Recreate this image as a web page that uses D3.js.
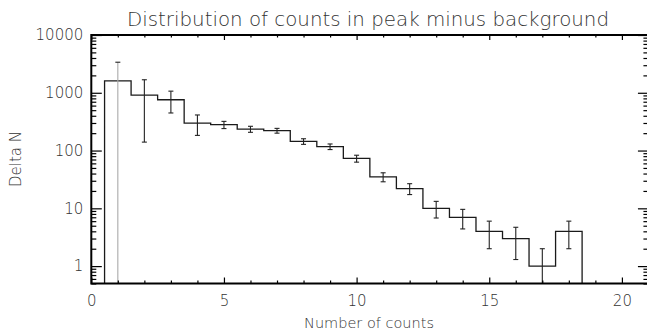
<!DOCTYPE html>
<html>
<head>
<meta charset="utf-8">
<script src="https://cdn.jsdelivr.net/npm/d3@7"></script>
<style>
  html, body { margin: 0; padding: 0; background: #fff; }
  svg { display: block; }
  text { font-family: "DejaVu Sans", sans-serif; font-weight: 200; fill: #333; }
</style>
</head>
<body>
<svg id="chart" width="647" height="332"></svg>
<script>
// ---- data ----
const binCenters = [1, 2, 3, 4, 5, 6, 7, 8, 9, 10, 11, 12, 13, 14, 15, 16, 17, 18];
const deltaN     = [1610, 910, 757, 298, 280, 235, 221, 144, 117, 73, 35, 22, 10, 7, 4, 3, 1, 4];
const errN       = [1770, 770, 310, 115, 40, 28, 21, 16, 13, 10, 6.2, 4.7, 3.2, 2.6, 2, 1.7, 1, 2];
const xTickValues = [0, 5, 10, 15, 20];
const yTickValues = [1, 10, 100, 1000, 10000];
const titleText = "Distribution of counts in peak minus background";
const xLabel = "Number of counts";
const yLabel = "Delta N";

// ---- layout ----
const svg = d3.select("#chart");
const padL = 91.3, padT = 35, padB = 283.5;
const x = d3.scaleLinear().domain([0, 21]).range([padL, padL + 21 * 26.53]);
const y = d3.scaleLog().domain([0.5, 10000]).range([padB, padT]);
const yMin = y.domain()[0];

// title
svg.append("text").attr("x", 368).attr("y", 26).attr("text-anchor", "middle")
  .attr("font-size", 19).attr("textLength", 482).attr("lengthAdjust", "spacingAndGlyphs")
  .text(titleText);

// histogram
const pts = [[binCenters[0] - 0.5, yMin]]
  .concat(binCenters.map((c, i) => [c - 0.5, deltaN[i]]))
  .concat([[binCenters[binCenters.length - 1] + 0.5, deltaN[deltaN.length - 1]],
           [binCenters[binCenters.length - 1] + 0.5, yMin]]);
const line = d3.line().x(d => x(d[0])).y(d => y(d[1])).curve(d3.curveStepAfter);
svg.append("path").attr("d", line(pts)).attr("fill", "none")
  .attr("stroke", "#1a1a1a").attr("stroke-width", 1.3);

// error bars
const eb = svg.append("g").attr("stroke", "#222").attr("stroke-width", 1.1);
binCenters.forEach((c, i) => {
  const hi = deltaN[i] + errN[i];
  const loVal = deltaN[i] - errN[i];
  const lo = loVal > yMin ? loVal : yMin;
  const cx = x(c);
  eb.append("line").attr("x1", cx).attr("x2", cx).attr("y1", y(lo)).attr("y2", y(hi))
    .attr("stroke", i === 0 ? "#aaa" : "#222");
  eb.append("line").attr("x1", cx - 2.5).attr("x2", cx + 2.5).attr("y1", y(hi)).attr("y2", y(hi));
  if (loVal > yMin) {
    eb.append("line").attr("x1", cx - 2.5).attr("x2", cx + 2.5).attr("y1", y(lo)).attr("y2", y(lo));
  }
});

// minor tick values
const xMinor = d3.range(0, 22, 1).filter(v => v % 5 !== 0);
const yMinor = [];
[0.1, 1, 10, 100, 1000].forEach(d => { for (let k = 2; k <= 9; k++) { const v = d * k; if (v >= 0.5 && v <= 10000) yMinor.push(v); } });

function styleAxis(g) {
  g.select(".domain").remove();
  g.selectAll(".tick line").attr("stroke", "#000").attr("stroke-width", 1.2);
  g.selectAll(".tick text").attr("fill", "#333").attr("font-size", 15)
    .style("font-family", "DejaVu Sans, sans-serif").style("font-weight", 200);
}

// bottom axis
svg.append("g").attr("transform", `translate(0,${padB})`)
  .call(d3.axisBottom(x).tickValues(xTickValues).tickSize(-6).tickPadding(12).tickFormat(d3.format("d")))
  .call(styleAxis);
svg.append("g").attr("transform", `translate(0,${padB})`)
  .call(d3.axisBottom(x).tickValues(xMinor).tickSize(-3).tickFormat(""))
  .call(styleAxis);
// top axis
svg.append("g").attr("transform", `translate(0,${padT})`)
  .call(d3.axisTop(x).tickValues(xTickValues).tickSize(-5).tickFormat(""))
  .call(styleAxis);
svg.append("g").attr("transform", `translate(0,${padT})`)
  .call(d3.axisTop(x).tickValues(xMinor).tickSize(-2.5).tickFormat(""))
  .call(styleAxis);
// left axis
svg.append("g").attr("transform", `translate(${padL},0)`)
  .call(d3.axisLeft(y).tickValues(yTickValues).tickSize(-10.5).tickPadding(8).tickFormat(d3.format("d")))
  .call(styleAxis);
svg.append("g").attr("transform", `translate(${padL},0)`)
  .call(d3.axisLeft(y).tickValues(yMinor).tickSize(-5).tickFormat(""))
  .call(styleAxis);
// right axis
const padR = x.range()[1];
svg.append("g").attr("transform", `translate(${padR},0)`)
  .call(d3.axisRight(y).tickValues(yTickValues).tickSize(-10.5).tickFormat(""))
  .call(styleAxis);
svg.append("g").attr("transform", `translate(${padR},0)`)
  .call(d3.axisRight(y).tickValues(yMinor).tickSize(-5).tickFormat(""))
  .call(styleAxis);

// frame
svg.append("rect").attr("x", padL).attr("y", padT).attr("width", padR - padL).attr("height", padB - padT)
  .attr("fill", "none").attr("stroke", "#000").attr("stroke-width", 2);

// axis titles
svg.append("text").attr("x", 369).attr("y", 328).attr("text-anchor", "middle")
  .attr("font-size", 14.5).text(xLabel);
svg.append("text").attr("transform", "translate(21,159) rotate(-90)").attr("text-anchor", "middle")
  .attr("font-size", 15).text(yLabel);
</script>
</body>
</html>
